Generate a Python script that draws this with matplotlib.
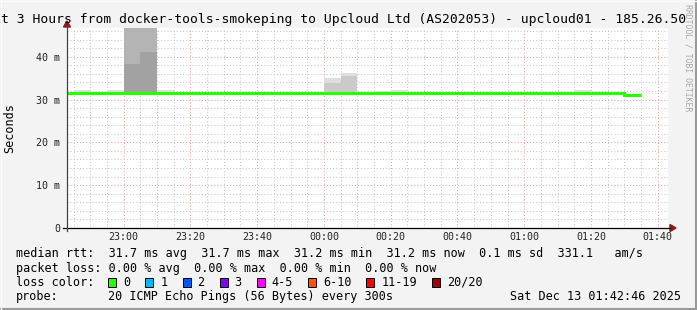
import numpy as np
import matplotlib
matplotlib.use("Agg")
import matplotlib.pyplot as plt
from matplotlib.lines import Line2D
from matplotlib.patches import Polygon, Rectangle

# ── Datos ────────────────────────────────────────────────────────────────────
# pasos de 5 min (300 s), de 22:40 a 01:35
first_step = "22:40"
last_edge = "01:35"
median_rtt = [31.6, 31.6, 31.6, 31.6, 31.6, 31.6, 31.6, 31.6, 31.6, 31.6,
              31.6, 31.6, 31.6, 31.6, 31.6, 31.6, 31.6, 31.6, 31.6, 31.6,
              31.6, 31.6, 31.6, 31.6, 31.6, 31.6, 31.6, 31.6, 31.6, 31.6,
              31.6, 31.6, 31.6, 31.45, 31.0]

# humo (smoke): sólo los pasos con dispersión visible
smoke_time = ["22:45", "22:55", "23:00", "23:05", "23:10",
              "00:00", "00:05", "00:15", "00:20", "01:15"]
smoke_low = [31.5, 31.5, 31.5, 31.5, 31.5, 31.5, 31.5, 31.5, 31.5, 31.5]
smoke_p60 = [31.5, 31.5, 38.4, 41.0, 31.5, 31.5, 31.5, 31.5, 31.5, 31.5]
smoke_p75 = [31.5, 31.5, 60.0, 60.0, 31.5, 31.5, 31.5, 31.5, 31.5, 31.5]
smoke_p90 = [31.5, 31.5, 60.0, 60.0, 31.5, 33.9, 35.5, 31.5, 31.5, 31.5]
smoke_max = [32.2, 32.2, 60.0, 60.0, 32.2, 35.0, 36.3, 32.1, 32.3, 32.2]

x_ticks = ["23:00", "23:20", "23:40", "00:00", "00:20", "00:40", "01:00", "01:20", "01:40"]
y_ticks = [0, 10, 20, 30, 40]
y_labels = ["0", "10 m", "20 m", "30 m", "40 m"]

title = "t 3 Hours from docker-tools-smokeping to Upcloud Ltd (AS202053) - upcloud01 - 185.26.50"
row_rtt = "median rtt:  31.7 ms avg  31.7 ms max  31.2 ms min  31.2 ms now  0.1 ms sd  331.1   am/s"
row_loss = "packet loss: 0.00 % avg  0.00 % max  0.00 % min  0.00 % now"
loss_labels = ["0", "1", "2", "3", "4-5", "6-10", "11-19", "20/20"]
loss_colors = ["#26ff00", "#00b8ff", "#0059ff", "#7e00ff", "#ff00ff", "#ff5500", "#ff0000", "#a00000"]
probe_text = "20 ICMP Echo Pings (56 Bytes) every 300s"
stamp = "Sat Dec 13 01:42:46 2025"

W, H = 697, 310
MONO = "DejaVu Sans Mono"


def to_min(hhmm):
    h, m = map(int, hhmm.split(":"))
    return (h + 24 if h < 12 else h) * 60 + m


def fx(x):
    return x / W


def fy(y):
    return 1 - y / H


fig = plt.figure(figsize=(W / 100, H / 100), dpi=100, facecolor="#f3f3f3")
ax = fig.add_axes([fx(67), fy(228), fx(668) - fx(67), fy(28) - fy(228)])
ax.set_facecolor("white")

# ── Serie ────────────────────────────────────────────────────────────────────
edges = np.arange(to_min(first_step), to_min(last_edge) + 1, 5)

smoke_x = np.array([to_min(t) for t in smoke_time])
layers = [(smoke_max, "#dedede"), (smoke_p90, "#cacaca"),
          (smoke_p75, "#b4b4b4"), (smoke_p60, "#a2a2a2")]
for upper, color in layers:
    for x0, lo, hi in zip(smoke_x, smoke_low, upper):
        if hi > lo:
            ax.stairs([hi], [x0, x0 + 5], baseline=lo, fill=True,
                      color=color, lw=0, zorder=2)

ax.stairs(median_rtt, edges, baseline=None, color="#26ff00", lw=2.2, zorder=3)

# ── Ejes y rejilla ───────────────────────────────────────────────────────────
t_start = to_min("22:43") + 3 / 60
ax.set_xlim(t_start, t_start + 180)
ax.set_ylim(0, 46.7)

ax.set_xticks([to_min(t) for t in x_ticks])
ax.set_xticklabels(x_ticks)
ax.set_xticks(np.arange(to_min("22:45"), to_min("01:45"), 5), minor=True)
ax.set_yticks(y_ticks)
ax.set_yticklabels(y_labels)
ax.set_yticks(np.arange(0, 47, 2), minor=True)

ax.grid(which="minor", color="#c8c8c8", ls=(0, (1, 2)), lw=0.75)
ax.grid(which="major", color="#eba0a0", ls=(0, (1, 2)), lw=0.75)
ax.set_axisbelow(True)

for s in ax.spines.values():
    s.set_visible(False)
ax.tick_params(which="both", length=0, labelsize=7.2, labelcolor="#222222")
ax.tick_params(axis="x", pad=2.8)
ax.tick_params(axis="y", pad=5)
for lab in ax.get_xticklabels() + ax.get_yticklabels():
    lab.set_family(MONO)

# líneas de eje con flecha
fig.add_artist(Line2D([fx(63), fx(670)], [fy(228), fy(228)], color="black", lw=0.9))
fig.add_artist(Line2D([fx(67), fx(67)], [fy(231), fy(25)], color="#444444", lw=0.9))
fig.add_artist(Polygon([[fx(670), fy(224.5)], [fx(676), fy(228)], [fx(670), fy(231.5)]],
                       closed=True, color="#8b1a1a", transform=fig.transFigure))
fig.add_artist(Polygon([[fx(63.5), fy(27)], [fx(67), fy(21)], [fx(70.5), fy(27)]],
                       closed=True, color="#8b1a1a", transform=fig.transFigure))

# ── Textos ───────────────────────────────────────────────────────────────────
fig.text(fx(1), fy(19.5), title, family=MONO, fontsize=9.4, va="center", ha="left")
fig.text(fx(10), fy(128), "Seconds", family=MONO, fontsize=8.5, rotation=90,
         va="center", ha="center")
fig.text(fx(688), fy(4), "RRDTOOL / TOBI OETIKER", family=MONO, fontsize=5.9,
         rotation=270, va="top", ha="center", color="#a8a8a8")

char_w = 0.602 * 8.5 * 100 / 72
fig.text(fx(16), fy(254), row_rtt, family=MONO, fontsize=8.5, va="center")
fig.text(fx(16), fy(268.3), row_loss, family=MONO, fontsize=8.5, va="center")
fig.text(fx(16), fy(282), "loss color:", family=MONO, fontsize=8.5, va="center")
fig.text(fx(16), fy(296.5), "probe:", family=MONO, fontsize=8.5, va="center")
fig.text(fx(16 + 13 * char_w), fy(296.5), probe_text, family=MONO, fontsize=8.5, va="center")
fig.text(fx(681), fy(296.5), stamp, family=MONO, fontsize=8.5, va="center", ha="right")

bx = 108.3
for lab, col in zip(loss_labels, loss_colors):
    fig.add_artist(Rectangle((fx(bx), fy(286.5)), fx(8), 9 / H, facecolor=col,
                             edgecolor="black", lw=0.7, transform=fig.transFigure))
    fig.text(fx(bx + 15), fy(282), lab, family=MONO, fontsize=8.5, va="center")
    bx += 30 + len(lab) * char_w

# marco 3D
fig.add_artist(Line2D([0, 1], [fy(309), fy(309)], color="#9a9a9a", lw=1.5))
fig.add_artist(Line2D([fx(696), fx(696)], [0, 1], color="#9a9a9a", lw=1.5))
fig.add_artist(Line2D([0, 1], [fy(0.5), fy(0.5)], color="#fcfcfc", lw=1))
fig.add_artist(Line2D([fx(0.5), fx(0.5)], [0, 1], color="#fcfcfc", lw=1))

fig.savefig("out.png", dpi=100, facecolor=fig.get_facecolor())
